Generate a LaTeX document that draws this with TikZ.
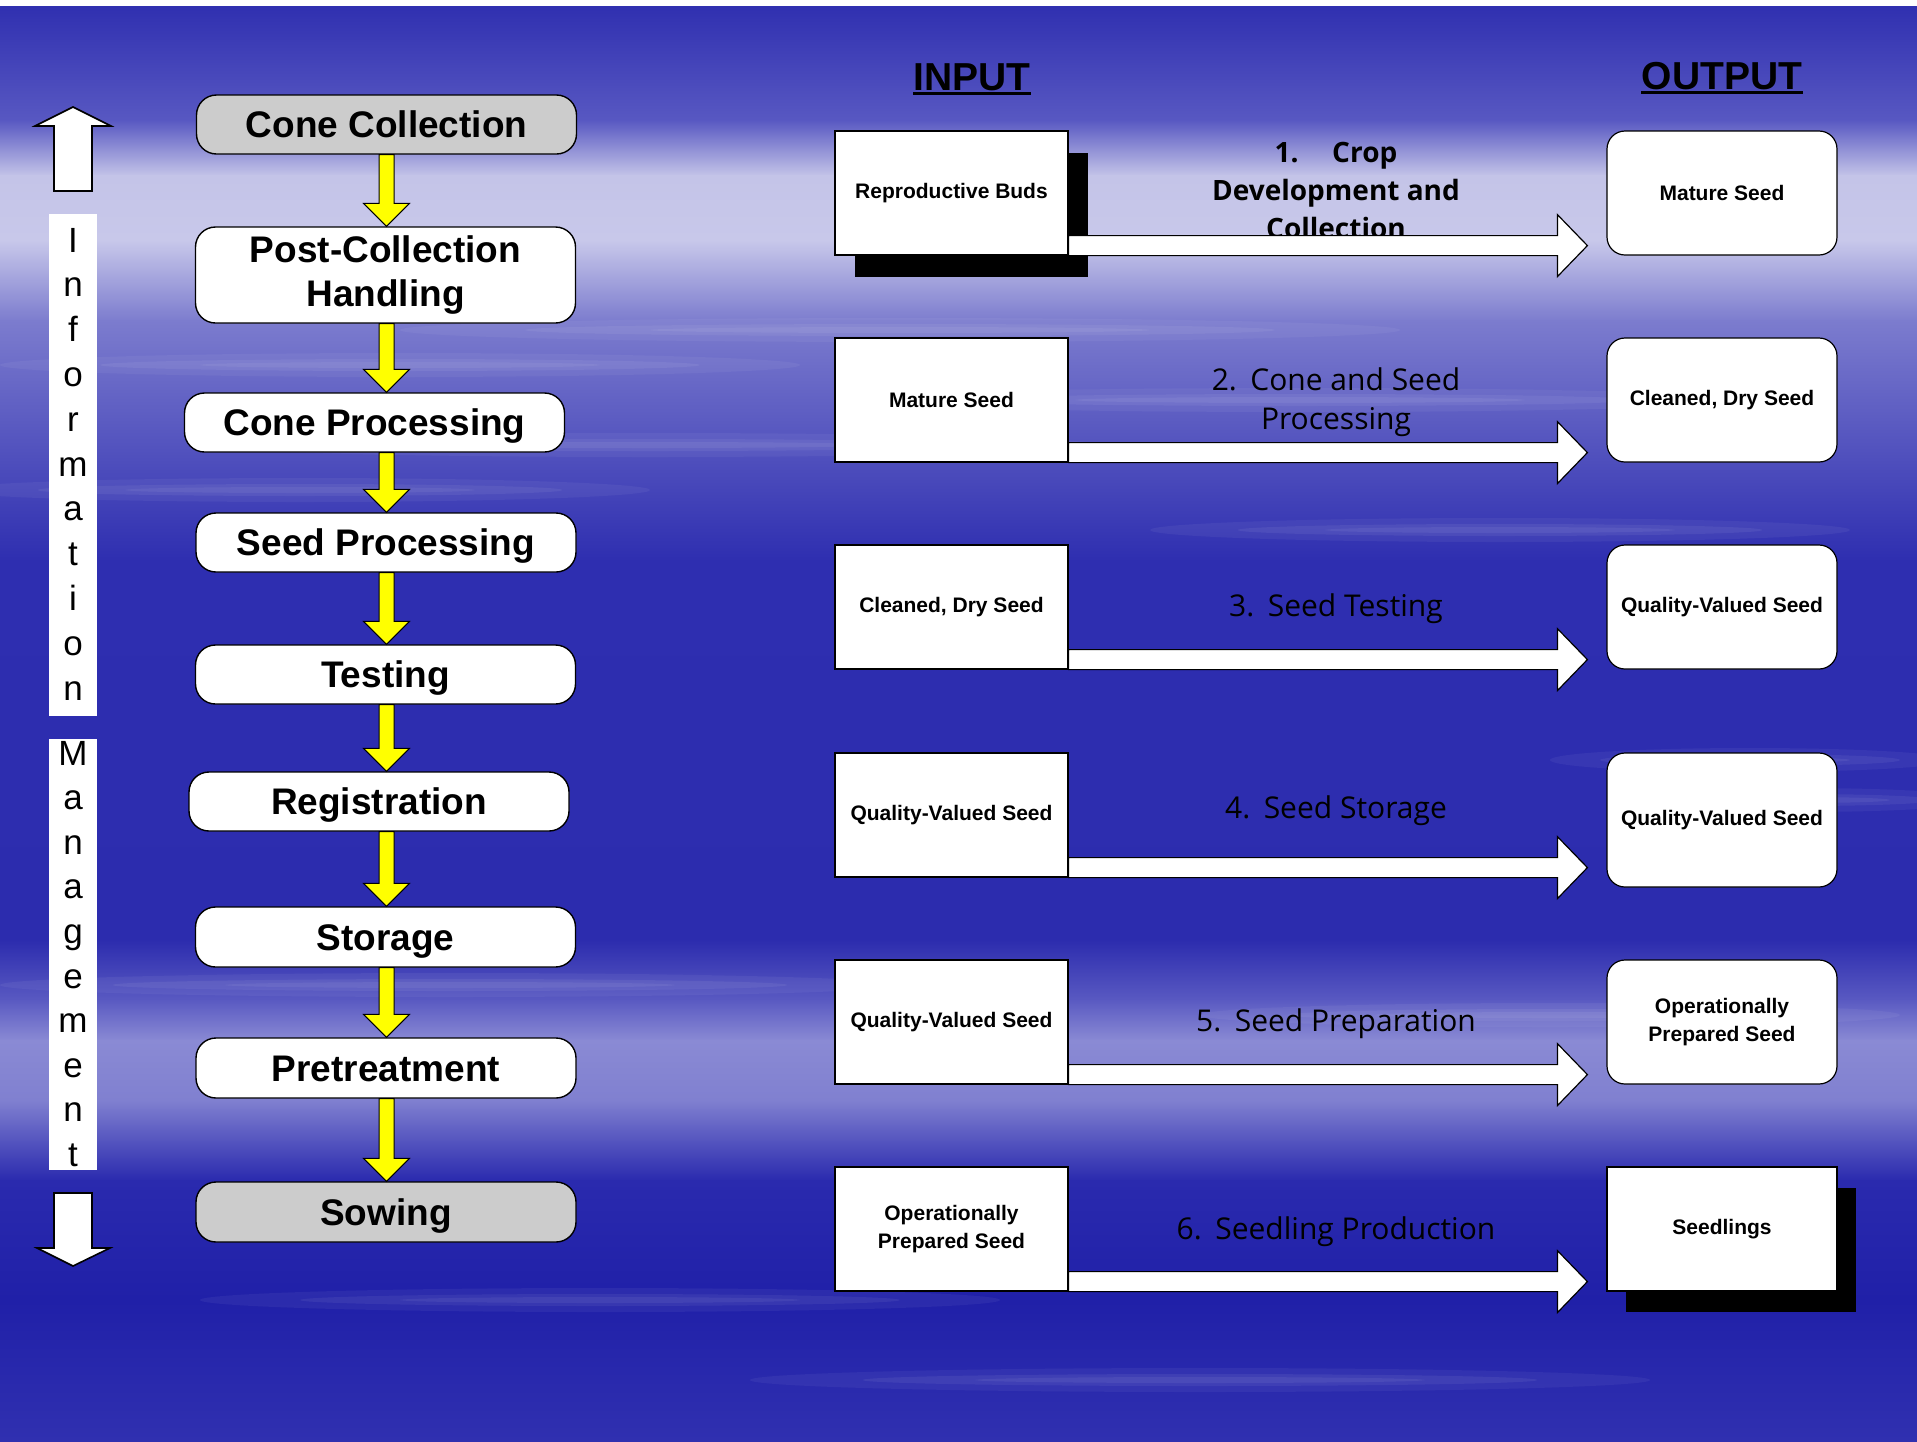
\documentclass[tikz,border=0pt]{standalone}
\usepackage{fontspec}
\setmainfont{Liberation Sans}
\newfontfamily\labfont{Open Sans}
\usetikzlibrary{calc,shadows}
\definecolor{bgA}{HTML}{3030B0}
\definecolor{bgB}{HTML}{5858C2}
\definecolor{bgC}{HTML}{C4C4E8}
\definecolor{bgD}{HTML}{C8C8EA}
\definecolor{bgE}{HTML}{7C7CCE}
\definecolor{bgF}{HTML}{2E2EB0}
\definecolor{bgG}{HTML}{2C2CAE}
\definecolor{bgH}{HTML}{5A5AC2}
\definecolor{bgI}{HTML}{8A8AD4}
\definecolor{bgJ}{HTML}{8080D0}
\definecolor{bgK}{HTML}{2A2AAE}
\definecolor{bgL}{HTML}{2020A8}
\definecolor{boxgray}{HTML}{CCCCCC}
\definecolor{yarrowcol}{HTML}{FFFF00}
\newcommand\yarr[2]{%
 \path[yarrow] let \p1=(cc.south |- #1.south), \p2=(cc.south |- #2.north) in
 (\x1-3.75pt,\y1) -- (\x1-3.75pt,\y2+11.5pt) -- (\x1-11.5pt,\y2+11.5pt) -- (\x1,\y2)
 -- (\x1+11.5pt,\y2+11.5pt) -- (\x1+3.75pt,\y2+11.5pt) -- (\x1+3.75pt,\y1) -- cycle;}
\newcommand\warr[2]{%
 \path[warrow] let \p1=(#1.south east), \p2=(#2.west) in
 (\x1,\y1) -- (\x1,\y1+10pt) -- (\x2-24.5pt,\y1+10pt) -- (\x2-24.5pt,\y1+20.5pt)
 -- (\x2-9.5pt,\y1+5pt) -- (\x2-24.5pt,\y1-10.5pt) -- (\x2-24.5pt,\y1) -- cycle;}
\begin{document}
\begin{tikzpicture}[x=0.5pt,y=-0.5pt,
  lbox/.style={draw=black, line width=0.7pt, rounded corners=10pt, fill=white,
    minimum width=190pt, minimum height=29.5pt, inner sep=0pt, align=center,
    font=\fontsize{18.5}{22}\selectfont\bfseries},
  onel/.style={text height=13.3pt, text depth=0pt},
  gbox/.style={lbox, fill=boxgray},
  inbox/.style={draw=black, line width=0.6pt, fill=white, minimum width=116.5pt,
    minimum height=62pt, inner sep=0pt, align=center,
    font=\fontsize{10.5}{14}\selectfont\bfseries},
  outbox/.style={inbox, rounded corners=9pt, minimum width=115pt},
  yarrow/.style={fill=yarrowcol, draw=black, line width=0.5pt},
  warrow/.style={fill=white, draw=black, line width=0.6pt},
  rowlab/.style={align=center, font=\labfont\fontsize{15}{19.5}\selectfont},
  vlet/.style={font=\fontsize{17.5}{18}\selectfont, anchor=base, inner sep=0pt},
  bigarrow/.style={fill=white, draw=black, line width=0.8pt},
  hdr/.style={font=\fontsize{19.5}{22}\selectfont\bfseries, anchor=base, inner sep=0pt}
]
\useasboundingbox (0,0) rectangle (1917,1441);
\fill[white] (0,0) rectangle (1917,1441);
% background bands
\shade[top color=bgA,bottom color=bgB] (0,6) rectangle (1917,121);
\shade[top color=bgB,bottom color=bgC] (0,120) rectangle (1917,176);
\shade[top color=bgC,bottom color=bgD] (0,175) rectangle (1917,241);
\shade[top color=bgD,bottom color=bgE] (0,240) rectangle (1917,321);
\shade[top color=bgE,bottom color=bgF] (0,320) rectangle (1917,561);
\shade[top color=bgF,bottom color=bgG] (0,560) rectangle (1917,941);
\shade[top color=bgG,bottom color=bgH] (0,940) rectangle (1917,1001);
\shade[top color=bgH,bottom color=bgI] (0,1000) rectangle (1917,1041);
\shade[top color=bgI,bottom color=bgJ] (0,1040) rectangle (1917,1101);
\shade[top color=bgJ,bottom color=bgK] (0,1100) rectangle (1917,1181);
\shade[top color=bgK,bottom color=bgL] (0,1180) rectangle (1917,1301);
\shade[top color=bgL,bottom color=bgA] (0,1300) rectangle (1917,1441);
% soft streaks
\foreach \yy/\xx/\ww in {330/900/500, 365/400/400, 400/1300/450, 445/650/450, 490/300/350, 530/1500/350, 760/1750/200, 800/1800/180, 985/450/450, 1015/1550/350, 1300/600/400, 1380/1200/450}
{
  \fill[white,opacity=0.05] (\xx,\yy) ellipse [x radius=\ww, y radius=12];
  \fill[white,opacity=0.06] (\xx,\yy) ellipse [x radius=0.75*\ww, y radius=6];
  \fill[white,opacity=0.06] (\xx,\yy) ellipse [x radius=0.5*\ww, y radius=3];
}
% left vertical labels
\fill[white] (49,214) rectangle (97,716);
\fill[white] (49,739) rectangle (97,1170);
\foreach \ch [count=\i from 0] in {I,n,f,o,r,m,a,t,i,o,n}
  \node[vlet] (inf\i) at (73,252+44.8*\i) {\ch};
\foreach \ch [count=\i from 0] in {M,a,n,a,g,e,m,e,n,t}
  \node[vlet] (man\i) at (73,765+44.6*\i) {\ch};
% big up / down arrows
\draw[bigarrow] (54,191) -- (54,126) -- (35,126) -- (73,107) -- (111,126) -- (92,126) -- (92,191) -- cycle;
\draw[bigarrow] (54,1193) -- (54,1248) -- (37,1248) -- (73,1266) -- (110,1248) -- (92,1248) -- (92,1193) -- cycle;
% left flow
\node[gbox,onel] (cc) at (386.5,124.5) {Cone Collection};
\node[lbox, minimum height=48pt] (pch) at (385.5,275) {Post-Collection\\Handling};
\node[lbox,onel] (cp) at (374.5,422.5) {Cone Processing};
\node[lbox,onel] (sp) at (386,542.5) {Seed Processing};
\node[lbox,onel] (te) at (385.5,674.5) {Testing};
\node[lbox,onel] (re) at (379,801.5) {Registration};
\node[lbox,onel,minimum height=30pt] (st) at (385.5,937) {Storage};
\node[lbox,onel,minimum height=30pt] (pr) at (386,1068) {Pretreatment};
\node[gbox,onel,minimum height=30pt] (so) at (386,1212) {Sowing};
\yarr{cc}{pch}
\yarr{pch}{cp}
\yarr{cp}{sp}
\yarr{sp}{te}
\yarr{te}{re}
\yarr{re}{st}
\yarr{st}{pr}
\yarr{pr}{so}
% headers
\node[hdr] (inp) at (972,90) {INPUT};
\draw[line width=1.5pt] ($(inp.base west)+(0,3.5)$) -- ($(inp.base east)+(0,3.5)$);
\node[hdr] (outp) at (1722,89) {OUTPUT};
\draw[line width=1.5pt] ($(outp.base west)+(0,3.5)$) -- ($(outp.base east)+(0,3.5)$);
% input boxes
\node[inbox, general shadow={fill=black, shadow xshift=10pt, shadow yshift=-11pt}] (in1) at (951.5,193) {Reproductive Buds};
\node[inbox] (in2) at (951.5,400) {Mature Seed};
\node[inbox] (in3) at (951.5,607) {Cleaned, Dry Seed};
\node[inbox] (in4) at (951.5,815) {Quality-Valued Seed};
\node[inbox] (in5) at (951.5,1022) {Quality-Valued Seed};
\node[inbox] (in6) at (951.5,1229) {Operationally\\Prepared Seed};
% output boxes
\node[outbox] (out1) at (1722,193) {Mature Seed};
\node[outbox] (out2) at (1722,400) {Cleaned, Dry Seed};
\node[outbox] (out3) at (1722,607) {Quality-Valued Seed};
\node[outbox, minimum height=67pt] (out4) at (1722,820) {Quality-Valued Seed};
\node[outbox] (out5) at (1722,1022) {Operationally\\Prepared Seed};
\node[inbox, minimum width=115pt, general shadow={fill=black, shadow xshift=9.5pt, shadow yshift=-10.5pt}] (out6) at (1722,1229) {Seedlings};
% process labels
\node[rowlab, font=\labfont\bfseries\fontsize{14}{19}\selectfont] (l1) at (1336,190) {1.\hspace{1.2em}Crop\\Development and\\Collection};
\node[rowlab] (l2) at (1336,402) {2.\hspace{0.45em}Cone and Seed\\Processing};
\node[rowlab] (l3) at (1336,609) {3.\hspace{0.45em}Seed Testing};
\node[rowlab] (l4) at (1336,811) {4.\hspace{0.45em}Seed Storage};
\node[rowlab] (l5) at (1336,1024) {5.\hspace{0.45em}Seed Preparation};
\node[rowlab] (l6) at (1336,1232) {6.\hspace{0.45em}Seedling Production};
% process arrows
\warr{in1}{out1}
\warr{in2}{out2}
\warr{in3}{out3}
\warr{in4}{out4}
\warr{in5}{out5}
\warr{in6}{out6}
\end{tikzpicture}
\end{document}
